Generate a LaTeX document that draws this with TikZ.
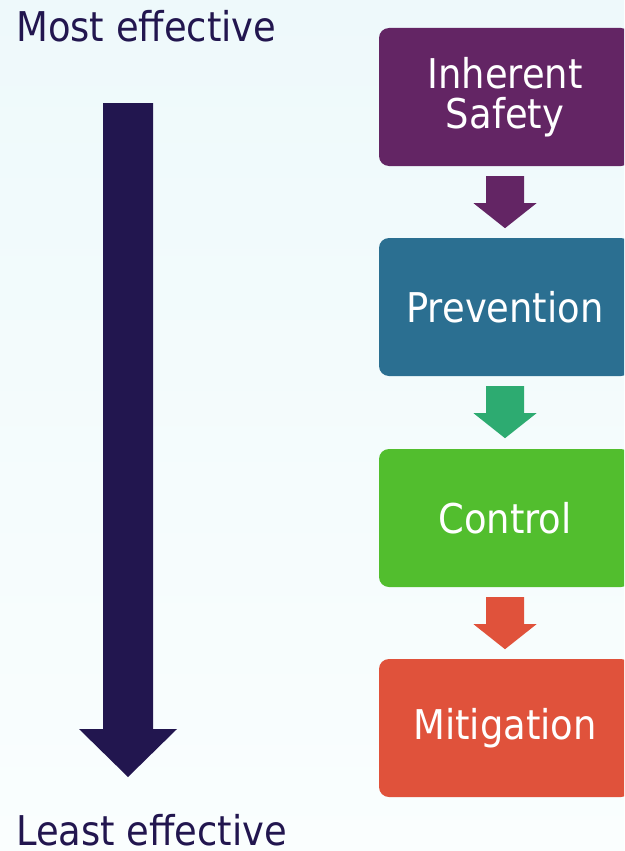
\documentclass[tikz,border=0pt]{standalone}
\usepackage{fontspec}
\setmainfont{DejaVu Sans}[FakeStretch=0.9]
\usetikzlibrary{calc}
\definecolor{navy}{HTML}{22164F}
\definecolor{cpurple}{HTML}{632564}
\definecolor{cblue}{HTML}{2B6F91}
\definecolor{cgreen}{HTML}{52BE2E}
\definecolor{cred}{HTML}{E0523B}
\definecolor{cteal}{HTML}{2DAB71}
\definecolor{bgtop}{HTML}{EEF9FB}
\definecolor{bgbot}{HTML}{FAFEFE}
\tikzset{
  stage/.style={fill=#1, draw=none, rounded corners=10pt, minimum width=252pt,
    minimum height=138pt, text=white, align=center, inner sep=0pt,
    font=\fontsize{41}{40}\selectfont},
  label/.style={text=navy, anchor=base west, inner sep=0pt,
    font=\fontsize{41}{48}\selectfont},
}
\newcommand\blkarrow[2]{%
  \fill[#2] ($(#1.south)+(-19,10)$) -- ($(#1.south)+(19,10)$) -- ($(#1.south)+(19,37)$)
   -- ($(#1.south)+(31.5,37)$) -- ($(#1.south)+(0,62)$) -- ($(#1.south)+(-31.5,37)$)
   -- ($(#1.south)+(-19,37)$) -- cycle;}
\begin{document}
\begin{tikzpicture}[x=1pt,y=-1pt]
  \shade[top color=bgtop, bottom color=bgbot] (0,0) rectangle (624,851);
  \useasboundingbox (0,0) rectangle (624,851);
  \begin{scope}
  \clip (0,0) rectangle (624,851);
  \node[stage=cpurple] (b1) at (505,97) {Inherent\\Safety};
  \node[stage=cblue] (b2) at (505,307) {Prevention};
  \node[stage=cgreen] (b3) at (505,518) {Control};
  \node[stage=cred] (b4) at (505,728) {Mitigation};
  \end{scope}
  \blkarrow{b1}{cpurple}
  \blkarrow{b2}{cteal}
  \blkarrow{b3}{cred}
  \node[label] (most) at (16,42) {Most effective};
  \node[label] (least) at (16,845) {Least effective};
  \coordinate (atop) at (128,103);
  \coordinate (atip) at (128,777);
  \fill[navy] ($(atop)+(-25,0)$) -- ($(atop)+(25,0)$) -- ($(atip)+(25,-48)$)
    -- ($(atip)+(49,-48)$) -- (atip) -- ($(atip)+(-49,-48)$) -- ($(atip)+(-25,-48)$) -- cycle;
\end{tikzpicture}
\end{document}
